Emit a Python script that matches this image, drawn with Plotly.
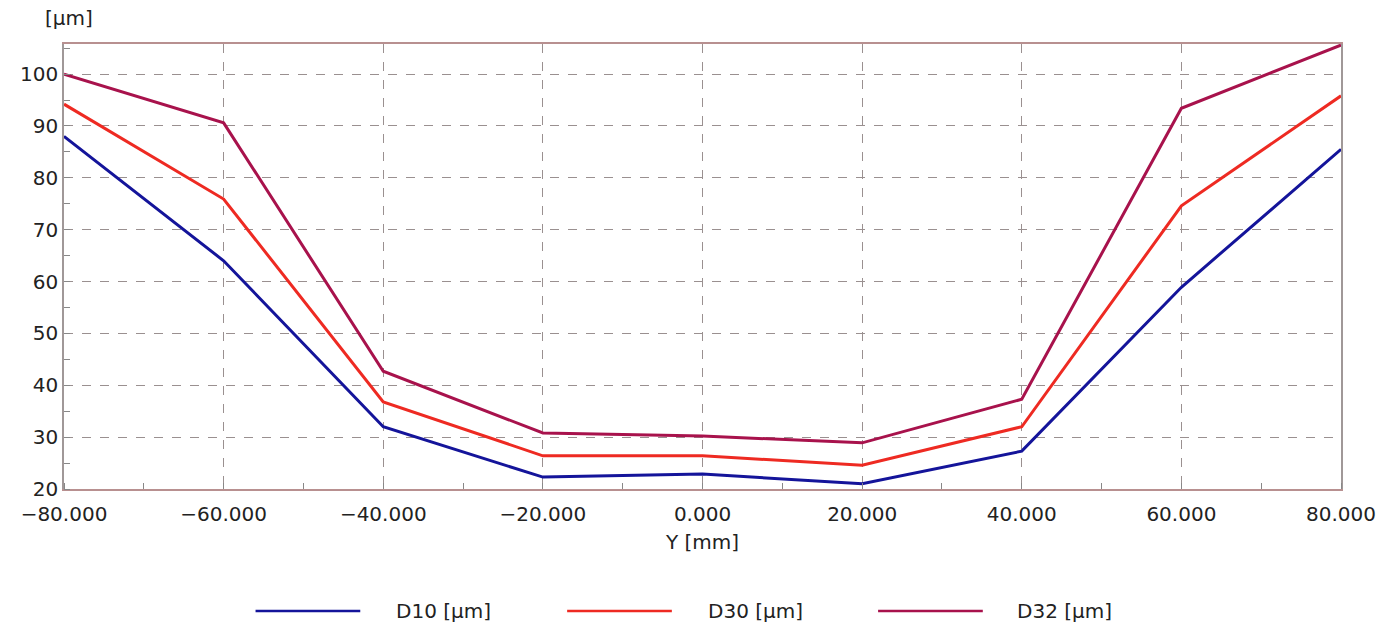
import plotly.graph_objects as go

y_mm = [-80, -60, -40, -20, 0, 20, 40, 60, 80]
d10 = [88.0, 64.0, 32.0, 22.3, 22.9, 21.0, 27.3, 58.9, 85.5]
d30 = [94.2, 75.9, 36.8, 26.4, 26.4, 24.6, 32.0, 74.6, 95.8]
d32 = [100.0, 90.6, 42.7, 30.8, 30.2, 28.9, 37.3, 93.4, 105.6]
names = ["D10 [µm]", "D30 [µm]", "D32 [µm]"]
colors = ["#14149a", "#ee2a22", "#a8124c"]
series = [d10, d30, d32]

FONT = "DejaVu Sans, Liberation Sans, Arial, sans-serif"
FS = 20
fig = go.Figure()
for name, vals, c in zip(names, series, colors):
    fig.add_trace(go.Scatter(x=y_mm, y=vals, mode="lines", name=name,
                             line=dict(color=c, width=3), showlegend=False))

grid_col = "#9a9090"
fig.update_xaxes(range=[-80, 80], tickvals=y_mm, tickformat=".3f",
                 showgrid=True, gridcolor=grid_col, griddash="dash", gridwidth=1,
                 showline=True, linecolor="#b89090", linewidth=1.5, mirror=True,
                 ticks="", zeroline=False, ticklabelstandoff=6,
                 minor=dict(dtick=10, tick0=0, ticks="inside", ticklen=6, tickcolor="#888", showgrid=False),
                 tickfont=dict(size=FS, color="#222", family=FONT),
                 title=dict(text="Y [mm]", font=dict(size=FS, color="#222", family=FONT), standoff=10))
fig.update_yaxes(range=[20, 105.8], tickvals=[20, 30, 40, 50, 60, 70, 80, 90, 100],
                 showgrid=True, gridcolor=grid_col, griddash="dash", gridwidth=1,
                 showline=True, linecolor="#a09898", linewidth=1.5, mirror=True,
                 ticks="", zeroline=False,
                 minor=dict(dtick=5, tick0=0, ticks="inside", ticklen=6, tickcolor="#888", showgrid=False),
                 tickfont=dict(size=FS, color="#222", family=FONT))

fig.add_annotation(text="[µm]", xref="paper", yref="paper", x=-0.0164, y=1.058,
                   xanchor="left", yanchor="middle", showarrow=False,
                   font=dict(size=FS, color="#222", family=FONT))

# manual legend
leg_line = [(0.150, 0.232), (0.394, 0.476), (0.6375, 0.7195)]
leg_text = [0.2586, 0.503, 0.745]
for (x0, x1), tx, name, c in zip(leg_line, leg_text, names, colors):
    fig.add_shape(type="line", xref="paper", yref="paper", x0=x0, x1=x1,
                  y0=-0.274, y1=-0.274, line=dict(color=c, width=2.5))
    fig.add_annotation(text=name, xref="paper", yref="paper", x=tx, y=-0.274,
                       xanchor="left", yanchor="middle", showarrow=False,
                       font=dict(size=FS, color="#222", family=FONT))

fig.update_layout(width=1389, height=623, margin=dict(l=53, r=56, t=36, b=142),
                  plot_bgcolor="white", paper_bgcolor="white",
                  font=dict(family=FONT))
fig.write_html("out.html")
